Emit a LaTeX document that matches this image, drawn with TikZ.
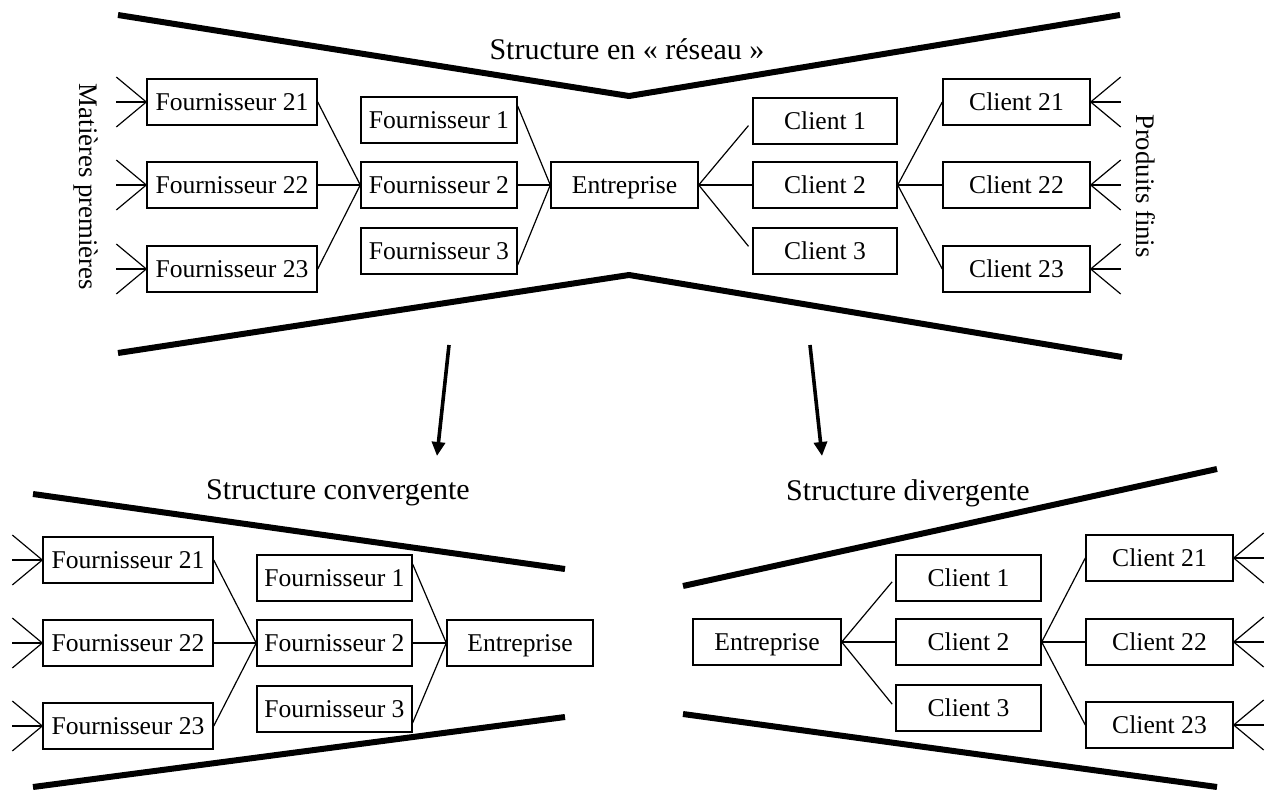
\documentclass[tikz,border=0pt]{standalone}
\usepackage{fontspec}
\setmainfont{Liberation Serif}
\usetikzlibrary{arrows.meta}

\tikzset{
  boite/.style={draw, line width=0.7pt, inner sep=0pt, minimum height=23pt,
    text height=0.85em, text depth=0pt,
    font=\fontsize{12.8}{15}\selectfont},
  lien/.style={line width=0.6pt},
  bord/.style={line width=3pt},
  titre/.style={font=\fontsize{15}{18}\selectfont},
  fleche/.style={line width=1.8pt, -{Triangle[length=7pt,width=6.5pt]}},
}

\begin{document}
\begin{tikzpicture}[x=0.5pt,y=-0.5pt]
  \useasboundingbox (0,0) rectangle (1269,792);

  % structure en reseau
  \node[titre] (treseau) at (627,49) {Structure en « réseau »};
  \draw[bord] (118,15) -- (629,96) -- (1120,15);
  \draw[bord] (118,353) -- (629,275) -- (1122,357);

  \node[boite, minimum width=85pt] (f21) at (232,102) {Fournisseur 21};
  \node[boite, minimum width=85pt] (f22) at (232,185) {Fournisseur 22};
  \node[boite, minimum width=85pt] (f23) at (232,269) {Fournisseur 23};
  \node[boite, minimum width=78pt] (f1) at (439,120) {Fournisseur 1};
  \node[boite, minimum width=78pt] (f2) at (439,185) {Fournisseur 2};
  \node[boite, minimum width=78pt] (f3) at (439,251) {Fournisseur 3};
  \node[boite, minimum width=73.5pt] (ent) at (624.5,185) {Entreprise};
  \node[boite, minimum width=72pt] (c1) at (825,121) {Client 1};
  \node[boite, minimum width=72pt] (c2) at (825,185) {Client 2};
  \node[boite, minimum width=72pt] (c3) at (825,251) {Client 3};
  \node[boite, minimum width=73.5pt] (c21) at (1016.5,102) {Client 21};
  \node[boite, minimum width=73.5pt] (c22) at (1016.5,185) {Client 22};
  \node[boite, minimum width=73.5pt] (c23) at (1016.5,269) {Client 23};

  \node[rotate=-90, font=\fontsize{13.4}{16}\selectfont] (matieres) at (86,187) {Matières premières};
  \node[rotate=-90, font=\fontsize{13.4}{16}\selectfont] (produits) at (1146,186) {Produits finis};

  \foreach \n in {f21,f22,f23} {
    \draw[lien] (\n.east) -- (f2.west);
    \foreach \dy in {-25,0,25} \draw[lien] (\n.west) -- ++(-30,\dy);
  }
  \draw[lien] (f1.10) -- (ent.west);
  \draw[lien] (f2.east) -- (ent.west);
  \draw[lien] (f3.-10) -- (ent.west);
  \draw[lien, shorten >=3pt] (ent.east) -- (c1.west);
  \draw[lien] (ent.east) -- (c2.west);
  \draw[lien, shorten >=3pt] (ent.east) -- (c3.west);
  \foreach \n in {c21,c22,c23} {
    \draw[lien] (c2.east) -- (\n.west);
    \foreach \dy in {-25,0,25} \draw[lien] (\n.east) -- ++(30,\dy);
  }

  % passage vers les deux structures
  \coordinate (ga) at (449,345);
  \coordinate (gb) at (437,456);
  \coordinate (da) at (810,345);
  \coordinate (db) at (822,456);
  \draw[fleche] (ga) -- (gb);
  \draw[fleche] (da) -- (db);

  % structure convergente
  \node[titre] (tconv) at (338,493) {Structure convergente};
  \draw[bord] (33,494) -- (565,569);
  \draw[bord] (33,787) -- (565,717);

  \node[boite, minimum width=85pt] (cf21) at (128,560) {Fournisseur 21};
  \node[boite, minimum width=85pt] (cf22) at (128,643) {Fournisseur 22};
  \node[boite, minimum width=85pt] (cf23) at (128,726) {Fournisseur 23};
  \node[boite, minimum width=77.5pt] (cf1) at (334.5,578) {Fournisseur 1};
  \node[boite, minimum width=77.5pt] (cf2) at (334.5,643) {Fournisseur 2};
  \node[boite, minimum width=77.5pt] (cf3) at (334.5,709) {Fournisseur 3};
  \node[boite, minimum width=73pt] (cent) at (520,643) {Entreprise};

  \foreach \n in {cf21,cf22,cf23} {
    \draw[lien] (\n.east) -- (cf2.west);
    \foreach \dy in {-25,0,25} \draw[lien] (\n.west) -- ++(-30,\dy);
  }
  \draw[lien] (cf1.10) -- (cent.west);
  \draw[lien] (cf2.east) -- (cent.west);
  \draw[lien] (cf3.-10) -- (cent.west);

  % structure divergente
  \node[titre] (tdiv) at (908,493) {Structure divergente};
  \draw[bord] (683,586) -- (1217,469);
  \draw[bord] (683,714) -- (1217,787);

  \node[boite, minimum width=74pt] (dent) at (767,642) {Entreprise};
  \node[boite, minimum width=72.5pt] (dc1) at (968.5,578) {Client 1};
  \node[boite, minimum width=72.5pt] (dc2) at (968.5,642) {Client 2};
  \node[boite, minimum width=72.5pt] (dc3) at (968.5,708) {Client 3};
  \node[boite, minimum width=73.5pt] (dc21) at (1159.5,558) {Client 21};
  \node[boite, minimum width=73.5pt] (dc22) at (1159.5,642) {Client 22};
  \node[boite, minimum width=73.5pt] (dc23) at (1159.5,725) {Client 23};

  \draw[lien, shorten >=2.5pt] (dent.east) -- (dc1.west);
  \draw[lien] (dent.east) -- (dc2.west);
  \draw[lien, shorten >=2.5pt] (dent.east) -- (dc3.west);
  \foreach \n in {dc21,dc22,dc23} {
    \draw[lien] (dc2.east) -- (\n.west);
    \foreach \dy in {-25,0,25} \draw[lien] (\n.east) -- ++(30,\dy);
  }
\end{tikzpicture}
\end{document}
